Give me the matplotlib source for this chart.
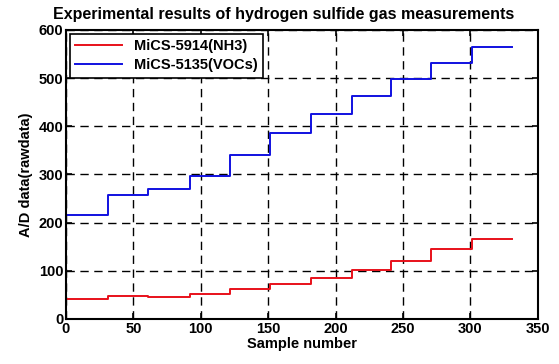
import numpy as np
import matplotlib
matplotlib.use("Agg")
import matplotlib.pyplot as plt

# step edges (sample number) and the level held over each step
edges = [0, 31, 61, 92, 122, 151, 182, 212, 241, 271, 301, 331]
nh3 = [41, 47, 45, 51, 61, 72, 84, 102, 121, 145, 166]
vocs = [216, 257, 269, 297, 340, 386, 425, 462, 497, 532, 564]

plt.rcParams['font.family'] = ['Liberation Sans', 'DejaVu Sans']
plt.rcParams['font.weight'] = 'bold'

fig = plt.figure(figsize=(5.59, 3.64), dpi=100)
ax = fig.add_axes([0.118, 0.124, 0.844, 0.794])

ax.plot(edges, nh3 + [nh3[-1]], drawstyle='steps-post', color='#e8101a', lw=1.4,
        label='MiCS-5914(NH3)')
ax.plot(edges, vocs + [vocs[-1]], drawstyle='steps-post', color='#1010e0', lw=1.4,
        label='MiCS-5135(VOCs)')

ax.set_xlim(0, 350)
ax.set_ylim(0, 600)
ax.set_xticks(np.arange(0, 351, 50))
ax.set_yticks(np.arange(0, 601, 100))
ax.grid(True, color='black', linestyle=(0, (6, 4)), lw=1.0)
ax.tick_params(direction='in', length=4, width=1.2, labelsize=10.5, top=True, right=True, pad=2)
for s in ax.spines.values():
    s.set_linewidth(1.5)

ax.set_xlabel('Sample number', fontsize=10.5, fontweight='bold', labelpad=1)
ax.set_ylabel('A/D data(rawdata)', fontsize=10.5, fontweight='bold', labelpad=4)
ax.set_title('Experimental results of hydrogen sulfide gas measurements',
             fontsize=11.5, fontweight='bold', pad=8, x=0.462)

leg = ax.legend(loc='upper left', fontsize=10.5, fancybox=False, framealpha=1,
                edgecolor='black', handlelength=3.2, borderaxespad=0.3,
                borderpad=0.35, labelspacing=0.35)
leg.get_frame().set_linewidth(1.2)

fig.savefig('out.png', dpi=100)
